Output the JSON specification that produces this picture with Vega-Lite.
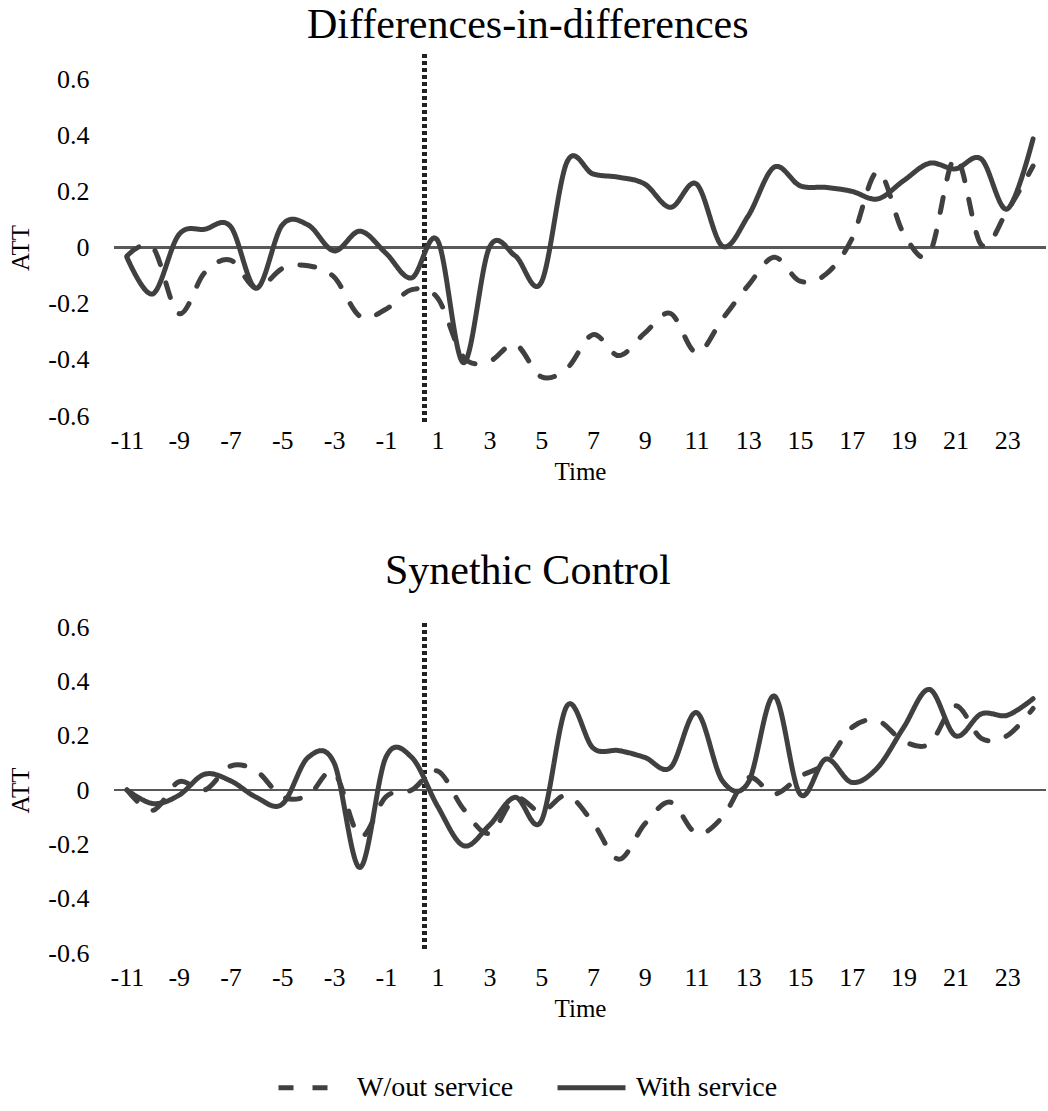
{
  "$schema": "https://vega.github.io/schema/vega-lite/v6.json",
  "background": "white",
  "padding": {"left": 8, "top": 3, "right": 0, "bottom": 0},
  "spacing": 66,
  "config": {
    "view": {"stroke": null},
    "font": "Liberation Serif",
    "axis": {
      "grid": false, "ticks": false, "tickSize": 0, "domain": false,
      "labelFont": "Liberation Serif", "labelFontSize": 26, "labelColor": "#000",
      "titleFont": "Liberation Serif", "titleFontSize": 25, "titleFontWeight": "normal", "titleColor": "#000"
    },
    "title": {"font": "Liberation Serif", "fontSize": 42, "fontWeight": "normal", "color": "#000", "frame": "bounds", "anchor": "middle"},
    "legend": {
      "labelFont": "Liberation Serif", "labelFontSize": 28, "labelColor": "#000",
      "symbolType": "stroke", "symbolSize": 4624, "symbolStrokeWidth": 5, "symbolStrokeColor": "#404040",
      "columnPadding": 33, "labelOffset": 8
    }
  },
  "datasets": {
    "att": [
      {"p":"DiD","s":"With service","t":-11,"v":-0.035},{"p":"DiD","s":"With service","t":-10,"v":-0.165},{"p":"DiD","s":"With service","t":-9,"v":0.045},{"p":"DiD","s":"With service","t":-8,"v":0.065},{"p":"DiD","s":"With service","t":-7,"v":0.075},{"p":"DiD","s":"With service","t":-6,"v":-0.145},{"p":"DiD","s":"With service","t":-5,"v":0.08},{"p":"DiD","s":"With service","t":-4,"v":0.08},{"p":"DiD","s":"With service","t":-3,"v":-0.012},{"p":"DiD","s":"With service","t":-2,"v":0.058},{"p":"DiD","s":"With service","t":-1,"v":-0.02},{"p":"DiD","s":"With service","t":0,"v":-0.108},
      {"p":"DiD","s":"With service","t":1,"v":0.025},{"p":"DiD","s":"With service","t":2,"v":-0.41},{"p":"DiD","s":"With service","t":3,"v":0.0},{"p":"DiD","s":"With service","t":4,"v":-0.03},{"p":"DiD","s":"With service","t":5,"v":-0.125},{"p":"DiD","s":"With service","t":6,"v":0.305},{"p":"DiD","s":"With service","t":7,"v":0.262},{"p":"DiD","s":"With service","t":8,"v":0.25},{"p":"DiD","s":"With service","t":9,"v":0.226},{"p":"DiD","s":"With service","t":10,"v":0.143},{"p":"DiD","s":"With service","t":11,"v":0.226},{"p":"DiD","s":"With service","t":12,"v":0.005},
      {"p":"DiD","s":"With service","t":13,"v":0.113},{"p":"DiD","s":"With service","t":14,"v":0.286},{"p":"DiD","s":"With service","t":15,"v":0.22},{"p":"DiD","s":"With service","t":16,"v":0.214},{"p":"DiD","s":"With service","t":17,"v":0.2},{"p":"DiD","s":"With service","t":18,"v":0.173},{"p":"DiD","s":"With service","t":19,"v":0.238},{"p":"DiD","s":"With service","t":20,"v":0.3},{"p":"DiD","s":"With service","t":21,"v":0.28},{"p":"DiD","s":"With service","t":22,"v":0.315},{"p":"DiD","s":"With service","t":23,"v":0.137},{"p":"DiD","s":"With service","t":24,"v":0.387},

      {"p":"DiD","s":"W/out service","t":-11,"v":-0.03},{"p":"DiD","s":"W/out service","t":-10,"v":0.0},{"p":"DiD","s":"W/out service","t":-9,"v":-0.235},{"p":"DiD","s":"W/out service","t":-8,"v":-0.09},{"p":"DiD","s":"W/out service","t":-7,"v":-0.045},{"p":"DiD","s":"W/out service","t":-6,"v":-0.145},{"p":"DiD","s":"W/out service","t":-5,"v":-0.075},{"p":"DiD","s":"W/out service","t":-4,"v":-0.065},{"p":"DiD","s":"W/out service","t":-3,"v":-0.105},{"p":"DiD","s":"W/out service","t":-2,"v":-0.245},{"p":"DiD","s":"W/out service","t":-1,"v":-0.22},{"p":"DiD","s":"W/out service","t":0,"v":-0.15},
      {"p":"DiD","s":"W/out service","t":1,"v":-0.18},{"p":"DiD","s":"W/out service","t":2,"v":-0.39},{"p":"DiD","s":"W/out service","t":3,"v":-0.405},{"p":"DiD","s":"W/out service","t":4,"v":-0.345},{"p":"DiD","s":"W/out service","t":5,"v":-0.46},{"p":"DiD","s":"W/out service","t":6,"v":-0.43},{"p":"DiD","s":"W/out service","t":7,"v":-0.31},{"p":"DiD","s":"W/out service","t":8,"v":-0.385},{"p":"DiD","s":"W/out service","t":9,"v":-0.305},{"p":"DiD","s":"W/out service","t":10,"v":-0.235},{"p":"DiD","s":"W/out service","t":11,"v":-0.375},{"p":"DiD","s":"W/out service","t":12,"v":-0.255},
      {"p":"DiD","s":"W/out service","t":13,"v":-0.135},{"p":"DiD","s":"W/out service","t":14,"v":-0.035},{"p":"DiD","s":"W/out service","t":15,"v":-0.12},{"p":"DiD","s":"W/out service","t":16,"v":-0.095},{"p":"DiD","s":"W/out service","t":17,"v":0.03},{"p":"DiD","s":"W/out service","t":18,"v":0.27},{"p":"DiD","s":"W/out service","t":19,"v":0.05},{"p":"DiD","s":"W/out service","t":20,"v":-0.02},{"p":"DiD","s":"W/out service","t":21,"v":0.32},{"p":"DiD","s":"W/out service","t":22,"v":0.01},{"p":"DiD","s":"W/out service","t":23,"v":0.13},{"p":"DiD","s":"W/out service","t":24,"v":0.29},

      {"p":"SC","s":"With service","t":-11,"v":0.0},{"p":"SC","s":"With service","t":-10,"v":-0.05},{"p":"SC","s":"With service","t":-9,"v":-0.02},{"p":"SC","s":"With service","t":-8,"v":0.058},{"p":"SC","s":"With service","t":-7,"v":0.034},{"p":"SC","s":"With service","t":-6,"v":-0.027},{"p":"SC","s":"With service","t":-5,"v":-0.052},{"p":"SC","s":"With service","t":-4,"v":0.12},{"p":"SC","s":"With service","t":-3,"v":0.1},{"p":"SC","s":"With service","t":-2,"v":-0.285},{"p":"SC","s":"With service","t":-1,"v":0.12},{"p":"SC","s":"With service","t":0,"v":0.12},
      {"p":"SC","s":"With service","t":1,"v":-0.06},{"p":"SC","s":"With service","t":2,"v":-0.205},{"p":"SC","s":"With service","t":3,"v":-0.13},{"p":"SC","s":"With service","t":4,"v":-0.027},{"p":"SC","s":"With service","t":5,"v":-0.115},{"p":"SC","s":"With service","t":6,"v":0.31},{"p":"SC","s":"With service","t":7,"v":0.155},{"p":"SC","s":"With service","t":8,"v":0.145},{"p":"SC","s":"With service","t":9,"v":0.12},{"p":"SC","s":"With service","t":10,"v":0.083},{"p":"SC","s":"With service","t":11,"v":0.285},{"p":"SC","s":"With service","t":12,"v":0.034},
      {"p":"SC","s":"With service","t":13,"v":0.028},{"p":"SC","s":"With service","t":14,"v":0.346},{"p":"SC","s":"With service","t":15,"v":-0.015},{"p":"SC","s":"With service","t":16,"v":0.114},{"p":"SC","s":"With service","t":17,"v":0.028},{"p":"SC","s":"With service","t":18,"v":0.083},{"p":"SC","s":"With service","t":19,"v":0.23},{"p":"SC","s":"With service","t":20,"v":0.37},{"p":"SC","s":"With service","t":21,"v":0.2},{"p":"SC","s":"With service","t":22,"v":0.28},{"p":"SC","s":"With service","t":23,"v":0.275},{"p":"SC","s":"With service","t":24,"v":0.336},

      {"p":"SC","s":"W/out service","t":-11,"v":0.0},{"p":"SC","s":"W/out service","t":-10,"v":-0.075},{"p":"SC","s":"W/out service","t":-9,"v":0.03},{"p":"SC","s":"W/out service","t":-8,"v":0.0},{"p":"SC","s":"W/out service","t":-7,"v":0.088},{"p":"SC","s":"W/out service","t":-6,"v":0.07},{"p":"SC","s":"W/out service","t":-5,"v":-0.025},{"p":"SC","s":"W/out service","t":-4,"v":-0.02},{"p":"SC","s":"W/out service","t":-3,"v":0.065},{"p":"SC","s":"W/out service","t":-2,"v":-0.17},{"p":"SC","s":"W/out service","t":-1,"v":-0.025},{"p":"SC","s":"W/out service","t":0,"v":0.0},
      {"p":"SC","s":"W/out service","t":1,"v":0.07},{"p":"SC","s":"W/out service","t":2,"v":-0.07},{"p":"SC","s":"W/out service","t":3,"v":-0.16},{"p":"SC","s":"W/out service","t":4,"v":-0.03},{"p":"SC","s":"W/out service","t":5,"v":-0.08},{"p":"SC","s":"W/out service","t":6,"v":-0.02},{"p":"SC","s":"W/out service","t":7,"v":-0.12},{"p":"SC","s":"W/out service","t":8,"v":-0.255},{"p":"SC","s":"W/out service","t":9,"v":-0.125},{"p":"SC","s":"W/out service","t":10,"v":-0.045},{"p":"SC","s":"W/out service","t":11,"v":-0.16},{"p":"SC","s":"W/out service","t":12,"v":-0.1},
      {"p":"SC","s":"W/out service","t":13,"v":0.045},{"p":"SC","s":"W/out service","t":14,"v":-0.015},{"p":"SC","s":"W/out service","t":15,"v":0.05},{"p":"SC","s":"W/out service","t":16,"v":0.1},{"p":"SC","s":"W/out service","t":17,"v":0.23},{"p":"SC","s":"W/out service","t":18,"v":0.255},{"p":"SC","s":"W/out service","t":19,"v":0.18},{"p":"SC","s":"W/out service","t":20,"v":0.17},{"p":"SC","s":"W/out service","t":21,"v":0.31},{"p":"SC","s":"W/out service","t":22,"v":0.19},{"p":"SC","s":"W/out service","t":23,"v":0.2},{"p":"SC","s":"W/out service","t":24,"v":0.3}
    ]
  },
  "vconcat": [
    {
      "width": 932, "height": 337,
      "title": {"text": "Differences-in-differences", "offset": 2},
      "data": {"name": "att"},
      "transform": [{"filter": "datum.p == 'DiD'"}],
      "layer": [
        {"mark": {"type": "rule", "color": "#595959", "strokeWidth": 1.5}, "encoding": {"y": {"datum": 0, "type": "quantitative"}}},
        {"mark": {"type": "rule", "color": "#222222", "strokeWidth": 4, "strokeDash": [3.5, 3.5]},
         "encoding": {"x": {"datum": 0.5, "type": "quantitative"}, "y": {"datum": -0.62, "type": "quantitative"}, "y2": {"datum": 0.7}}},
        {"mark": {"type": "line", "interpolate": "cardinal", "color": "#404040", "strokeWidth": 5, "strokeCap": "round"},
         "encoding": {
           "x": {"field": "t", "type": "quantitative", "scale": {"domain": [-11.5, 24.5], "nice": false, "zero": false},
                 "axis": {"values": [-11,-9,-7,-5,-3,-1,1,3,5,7,9,11,13,15,17,19,21,23], "labelExpr": "'' + datum.value", "title": "Time", "labelPadding": 11, "titlePadding": 6}},
           "y": {"field": "v", "type": "quantitative", "scale": {"domain": [-0.6, 0.6], "nice": false, "zero": false},
                 "axis": {"values": [-0.6,-0.4,-0.2,0,0.2,0.4,0.6], "labelExpr": "'' + datum.value", "title": "ATT", "labelPadding": 25, "titlePadding": 14}},
           "strokeDash": {"field": "s", "type": "nominal",
                 "scale": {"domain": ["W/out service", "With service"], "range": [[15, 19], [1, 0]]},
                 "legend": {"title": null, "orient": "none", "direction": "horizontal", "legendX": 162, "legendY": 972}}
         }}
      ]
    },
    {
      "width": 932, "height": 326,
      "title": {"text": "Synethic Control", "offset": 21},
      "data": {"name": "att"},
      "transform": [{"filter": "datum.p == 'SC'"}],
      "layer": [
        {"mark": {"type": "rule", "color": "#595959", "strokeWidth": 1.5}, "encoding": {"y": {"datum": 0, "type": "quantitative"}}},
        {"mark": {"type": "rule", "color": "#222222", "strokeWidth": 4, "strokeDash": [3.5, 3.5]},
         "encoding": {"x": {"datum": 0.5, "type": "quantitative"}, "y": {"datum": -0.583, "type": "quantitative"}, "y2": {"datum": 0.627}}},
        {"mark": {"type": "line", "interpolate": "cardinal", "color": "#404040", "strokeWidth": 5, "strokeCap": "round"},
         "encoding": {
           "x": {"field": "t", "type": "quantitative", "scale": {"domain": [-11.5, 24.5], "nice": false, "zero": false},
                 "axis": {"values": [-11,-9,-7,-5,-3,-1,1,3,5,7,9,11,13,15,17,19,21,23], "labelExpr": "'' + datum.value", "title": "Time", "labelPadding": 11, "titlePadding": 6}},
           "y": {"field": "v", "type": "quantitative", "scale": {"domain": [-0.6, 0.6], "nice": false, "zero": false},
                 "axis": {"values": [-0.6,-0.4,-0.2,0,0.2,0.4,0.6], "labelExpr": "'' + datum.value", "title": "ATT", "labelPadding": 25, "titlePadding": 14}},
           "strokeDash": {"field": "s", "type": "nominal",
                 "scale": {"domain": ["W/out service", "With service"], "range": [[15, 19], [1, 0]]},
                 "legend": {"title": null, "orient": "none", "direction": "horizontal", "legendX": 162, "legendY": 972}}
         }}
      ]
    }
  ]
}
